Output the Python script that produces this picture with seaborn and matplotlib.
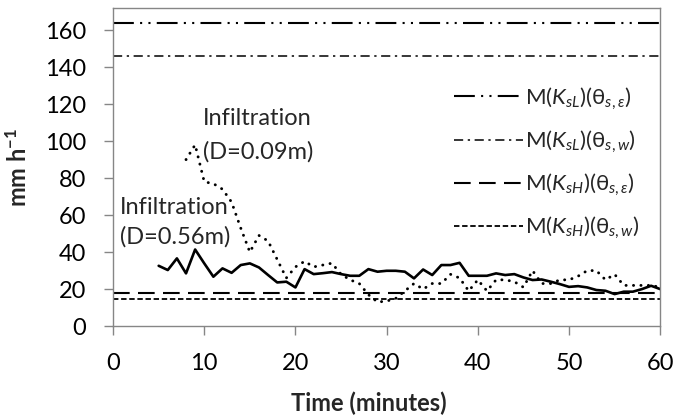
import numpy as np
import pandas as pd
import matplotlib.pyplot as plt
import seaborn as sns

# ---------- style ----------
sns.set_style("ticks")
plt.rcParams['font.family'] = ['Lato', 'DejaVu Sans']
plt.rcParams['mathtext.fontset'] = 'custom'
plt.rcParams['mathtext.rm'] = 'Lato'
plt.rcParams['mathtext.it'] = 'Lato:italic'
plt.rcParams['mathtext.bf'] = 'Lato:bold'
plt.rcParams['mathtext.fallback'] = 'stixsans'

GRAY = "#868686"
FS = 17

# ---------- data ----------
time_d56 = list(range(5, 61))
infil_d56 = [32.6, 30.3, 36.6, 28.5, 41.4, 33.9, 26.7, 31.2, 28.8, 33.0,
             33.9, 31.7, 27.6, 23.6, 24.0, 20.9, 30.8, 28.1, 28.6, 29.2,
             28.1, 27.2, 27.2, 30.8, 29.4, 29.9, 29.9, 29.4, 25.8, 30.6,
             27.6, 33.0, 33.0, 34.2, 27.2, 27.2, 27.2, 28.5, 27.6, 28.1,
             26.3, 24.9, 25.2, 24.0, 22.7, 21.2, 21.6, 20.9, 19.5, 19.1,
             17.3, 18.6, 18.6, 20.0, 21.8, 20.0]

time_d09 = list(range(8, 61))
infil_d09 = [90, 98, 78, 77, 74, 67, 53, 40, 49, 46,
             36, 26, 32, 35, 32, 33, 34, 28, 25, 23,
             17, 13, 13.5, 15, 19, 23, 20, 23, 23, 28,
             26, 19, 25, 19, 25, 25, 24, 21, 30, 23,
             23, 25, 25, 27, 30, 30, 25, 28, 22, 22,
             22, 22, 21]

model_values = [164, 146, 18.1, 14.5]
model_labels = [r"M($K_{sL}$)(θ$_{s,ε}$)",
                r"M($K_{sL}$)(θ$_{s,w}$)",
                r"M($K_{sH}$)(θ$_{s,ε}$)",
                r"M($K_{sH}$)(θ$_{s,w}$)"]

# ---------- plot ----------
fig = plt.figure(figsize=(6.73, 4.17), dpi=100)
ax = fig.add_axes([0.168, 0.218, 0.813, 0.763])

sns.lineplot(x=time_d56, y=infil_d56, ax=ax, color="black", linewidth=1.9)
sns.lineplot(x=time_d09, y=infil_d09, ax=ax, color="black", linewidth=2.1)
ax.lines[-1].set_linestyle((0, (0.05, 2.5)))
ax.lines[-1].set_dash_capstyle("round")

# 模型线样式
styles = [
    dict(linewidth=1.5, dashes=(10, 3, 1, 3, 1, 3)),
    dict(linewidth=1.1, dashes=(6, 3, 1.5, 3)),
    dict(linewidth=1.5, dashes=(8, 4)),
    dict(linewidth=1.3, dashes=(3, 1.5)),
]
handles = []
for val, lab, st in zip(model_values, model_labels, styles):
    h = ax.axhline(val, color="black", label=lab, **st)
    handles.append(h)

ax.text(9.9, 112, "Infiltration", fontsize=FS, va="center", ha="left")
ax.text(9.9, 94, "(D=0.09m)", fontsize=FS, va="center", ha="left")
ax.text(0.8, 64, "Infiltration", fontsize=FS, va="center", ha="left")
ax.text(0.8, 48, "(D=0.56m)", fontsize=FS, va="center", ha="left")

ax.set_xlim(0, 60)
ax.set_ylim(0, 172)
ax.set_xticks(np.arange(0, 61, 10))
ax.set_yticks(np.arange(0, 161, 20))

for sp in ax.spines.values():
    sp.set_visible(True)
    sp.set_color(GRAY)
    sp.set_linewidth(1.0)
ax.tick_params(axis="both", colors=GRAY, labelcolor="black", labelsize=FS,
               length=6.5, width=1.0)
ax.tick_params(axis="x", pad=13)
ax.tick_params(axis="y", pad=13)

ax.set_xlabel("Time (minutes)", fontsize=FS, fontweight="bold")
ax.set_ylabel(r"mm h$^{\mathbf{-1}}$", fontsize=FS, fontweight="bold")
ax.xaxis.set_label_coords(0.468, -0.205)
ax.yaxis.set_label_coords(-0.152, 0.5)

leg = ax.legend(handles=handles, loc="upper left", bbox_to_anchor=(0.607, 0.785),
                frameon=False, fontsize=16, handlelength=3.1, handletextpad=0.1,
                labelspacing=0.75, borderaxespad=0)

fig.savefig("out.png", dpi=100)
